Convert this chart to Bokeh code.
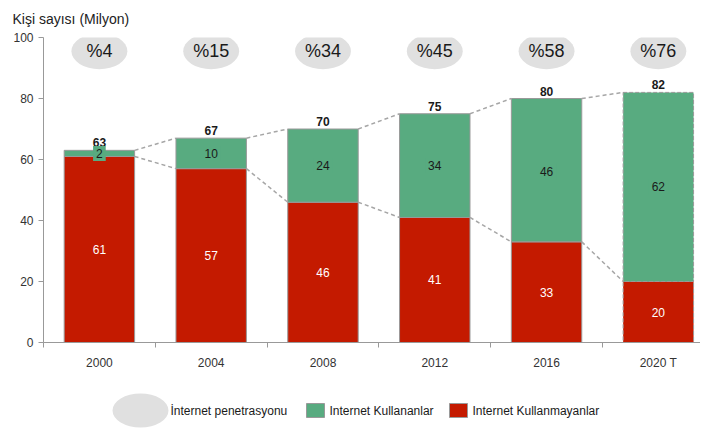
from bokeh.plotting import figure
from bokeh.models import ColumnDataSource, FixedTicker, LinearAxis, Range1d, CDSView, IndexFilter
from bokeh.layouts import column
from bokeh.embed import file_html
from bokeh.resources import INLINE
from bokeh.core.properties import value

# ---- data ----
years = ["2000", "2004", "2008", "2012", "2016", "2020 T"]
non_users = [61, 57, 46, 41, 33, 20]      # Internet Kullanmayanlar
users = [2, 10, 24, 34, 46, 62]           # Internet Kullananlar
totals = [63, 67, 70, 75, 80, 82]
penetration = ["%4", "%15", "%34", "%45", "%58", "%76"]
forecast = [False, False, False, False, False, True]
y_ticks = [0, 20, 40, 60, 80, 100]
legend_labels = ["İnternet penetrasyonu", "Internet Kullananlar", "Internet Kullanmayanlar"]
axis_title = "Kişi sayısı (Milyon)"

# ---- style ----
RED = "#c41a00"
GREEN = "#58ab80"
ELL = "#e0e0e0"
GRID = "#999999"
DASH_C = "#a6a6a6"
TXT = "#1a1a1a"
FONT = "Liberation Sans"
BW = 0.63
W = 700

x = [i + 0.5 for i in range(len(years))]
src = ColumnDataSource(dict(
    x=x, year=years, red=non_users, total=totals, pen=penetration,
    red_lbl=[str(v) for v in non_users], green_lbl=[str(v) for v in users],
    total_lbl=[str(v) for v in totals],
    red_mid=[r / 2 for r in non_users],
    green_mid=[r + g / 2 for r, g in zip(non_users, users)],
))

p = figure(width=W, height=380, x_range=Range1d(0, 5.877), y_range=Range1d(0, 100),
           output_backend="svg", toolbar_location=None, x_axis_type=None, y_axis_type=None,
           min_border_left=43, min_border_right=0, min_border_top=37, min_border_bottom=38,
           outline_line_color=None, title=axis_title)
p.title.text_font = FONT
p.title.text_font_size = "14px"
p.title.text_font_style = "normal"
p.title.text_color = "#222222"
p.title.offset = -31
p.title.vertical_align = "top"
p.title.standoff = 18

yax = LinearAxis(ticker=FixedTicker(ticks=y_ticks), major_tick_out=5, major_tick_in=0,
                 minor_tick_out=0, minor_tick_in=0, axis_line_color=GRID,
                 major_tick_line_color=GRID, major_label_text_font=FONT,
                 major_label_text_font_size="12px", major_label_text_color="#333333",
                 major_label_standoff=5)
p.add_layout(yax, "left")

xax = LinearAxis(ticker=FixedTicker(ticks=x, minor_ticks=list(range(len(years) + 1))),
                 major_label_overrides={xi: yr for xi, yr in zip(x, years)},
                 major_tick_out=0, major_tick_in=0, minor_tick_out=5, minor_tick_in=0,
                 minor_tick_line_color=GRID, axis_line_color=GRID,
                 major_label_text_font=FONT, major_label_text_font_size="12px",
                 major_label_text_color="#333333", major_label_standoff=8)
p.add_layout(xax, "below")

solid = CDSView(filter=IndexFilter([i for i, f in enumerate(forecast) if not f]))
dashed = CDSView(filter=IndexFilter([i for i, f in enumerate(forecast) if f]))
for view, dash in ((solid, "solid"), (dashed, "4 2")):
    p.vbar(x="x", bottom=0, top="red", width=BW, source=src, view=view,
           fill_color=RED, line_color=GRID, line_dash=dash)
    p.vbar(x="x", bottom="red", top="total", width=BW, source=src, view=view,
           fill_color=GREEN, line_color=GRID, line_dash=dash)

# dashed connectors
xr = [xi + BW / 2 for xi in x[:-1]]
xl = [xi - BW / 2 for xi in x[1:]]
p.segment(x0=xr, y0=totals[:-1], x1=xl, y1=totals[1:], line_color=DASH_C,
          line_dash="4 3", line_width=1.5)
p.segment(x0=xr, y0=non_users[:-1], x1=xl, y1=non_users[1:], line_color=DASH_C,
          line_dash="4 3", line_width=1.5)

# penetration bubbles
p.ellipse(x="x", y=95.5, width=0.5, height=11.8, source=src, fill_color=ELL, line_color=None)
p.text(x="x", y=95.5, text="pen", source=src, text_align="center", text_baseline="middle",
       text_font=value(FONT), text_font_size="18px", text_color=TXT)

# labels
p.text(x="x", y="total", text="total_lbl", source=src, text_align="center",
       text_baseline="bottom", y_offset=-3, text_font=value(FONT), text_font_size="12px",
       text_font_style="bold", text_color=TXT)
p.text(x="x", y="green_mid", text="green_lbl", source=src, text_align="center",
       text_baseline="middle", text_font=value(FONT), text_font_size="12px", text_color=TXT,
       background_fill_color=GREEN, padding=3)
p.text(x="x", y="red_mid", text="red_lbl", source=src, text_align="center",
       text_baseline="middle", text_font=value(FONT), text_font_size="12px", text_color="white")

# ---- legend strip (coordinates = page pixels) ----
leg = figure(width=W, height=48, x_range=Range1d(43, W), y_range=Range1d(428, 380),
             output_backend="svg", toolbar_location=None, x_axis_type=None, y_axis_type=None,
             outline_line_color=None, min_border_left=43, min_border_right=0,
             min_border_top=0, min_border_bottom=0)
leg.ellipse(x=140, y=410, width=56, height=34, fill_color=ELL, line_color=None)
leg.rect(x=[315, 458], y=410, width=18, height=14, fill_color=[GREEN, RED], line_color=GRID)
leg.text(x=[170, 329, 472], y=410, text=legend_labels, text_baseline="middle",
         text_font=value(FONT), text_font_size="12px", text_color=TXT)

layout = column(p, leg, spacing=0)
open("out.html", "w").write(file_html(layout, INLINE))
